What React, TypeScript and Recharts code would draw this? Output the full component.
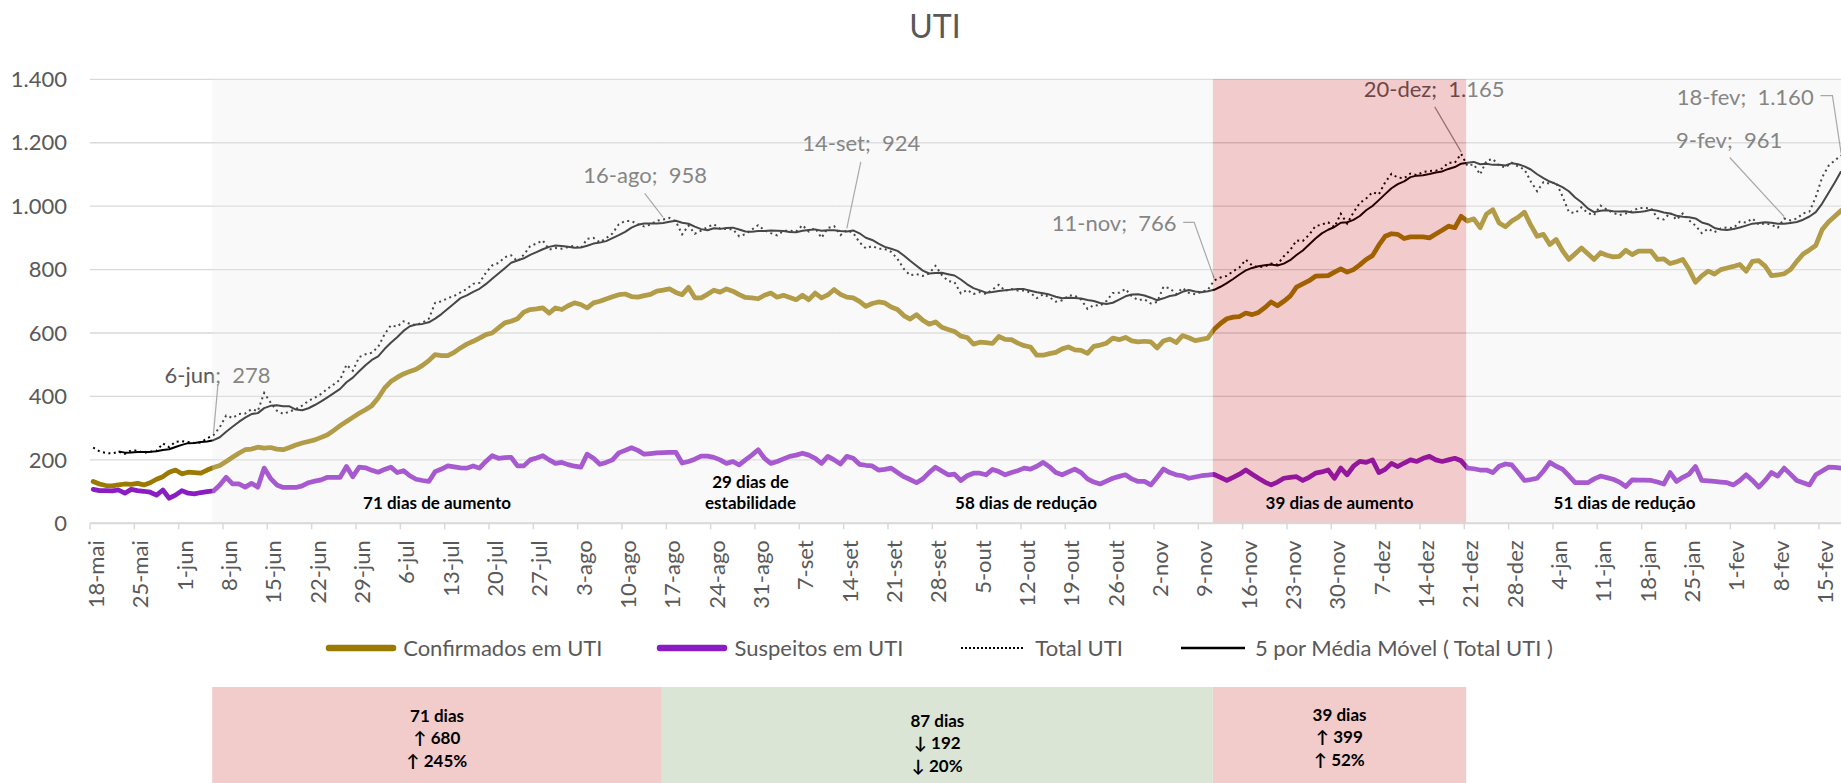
import React from 'react';
import {
  CartesianGrid,
  ComposedChart,
  Legend,
  Line,
  ReferenceArea,
  ReferenceDot,
  XAxis,
  YAxis,
} from 'recharts';

const FONT = 'Lato, "Liberation Sans", sans-serif';

// dias (índice a partir de 18-mai) que recebem rótulo no eixo x
const TICK_DAYS = [
  0, 7, 14, 21, 28, 35, 42, 49, 56, 63, 70, 77, 84, 91, 98, 105, 112, 119, 126, 133,
  140, 147, 154, 161, 168, 175, 182, 189, 196, 203, 210, 217, 224, 231, 238, 245, 252, 259, 266, 273,
];
const TICK_LABELS = [
  '18-mai', '25-mai', '1-jun', '8-jun', '15-jun', '22-jun', '29-jun', '6-jul', '13-jul', '20-jul',
  '27-jul', '3-ago', '10-ago', '17-ago', '24-ago', '31-ago', '7-set', '14-set', '21-set', '28-set',
  '5-out', '12-out', '19-out', '26-out', '2-nov', '9-nov', '16-nov', '23-nov', '30-nov', '7-dez',
  '14-dez', '21-dez', '28-dez', '4-jan', '11-jan', '18-jan', '25-jan', '1-fev', '8-fev', '15-fev',
];
const Y_TICKS = [0, 200, 400, 600, 800, 1000, 1200, 1400];

// 18-mai .. 18-fev, um valor por dia
const CONFIRMADOS = [
  132, 124, 119, 118, 121, 124, 123, 126, 121, 128,
  139, 147, 161, 168, 156, 161, 160, 158, 168, 176,
  182, 195, 208, 221, 232, 234, 240, 237, 239, 234,
  232, 239, 247, 253, 258, 263, 271, 279, 293, 308,
  321, 334, 347, 358, 371, 395, 426, 447, 460, 471,
  479, 486, 498, 513, 532, 529, 529, 539, 553, 565,
  574, 584, 595, 600, 616, 632, 637, 645, 666, 674,
  676, 679, 663, 679, 674, 686, 695, 690, 679, 695,
  700, 707, 714, 721, 723, 715, 713, 718, 722, 732,
  735, 739, 728, 721, 744, 711, 711, 722, 735, 729,
  739, 732, 721, 712, 711, 708, 719, 726, 713, 719,
  712, 705, 719, 705, 726, 711, 720, 737, 722, 713,
  711, 700, 684, 693, 698, 695, 682, 674, 655, 644,
  658, 640, 628, 635, 618, 611, 605, 590, 586, 565,
  571, 570, 567, 589, 580, 579, 568, 560, 556, 530,
  530, 535, 539, 550, 556, 547, 545, 536, 558, 562,
  568, 584, 579, 586, 575, 572, 574, 572, 553, 575,
  581, 570, 592, 585, 576, 580, 584, 612, 630, 645,
  650, 652, 663, 658, 665, 680, 698, 686, 700, 716,
  745, 755, 765, 779, 780, 781, 792, 802, 792, 800,
  815, 832, 844, 877, 905, 913, 911, 898, 903, 903,
  903, 900, 912, 924, 937, 932, 968, 953, 960, 932,
  975, 989, 947, 935, 953, 965, 981, 940, 905, 911,
  879, 895, 860, 832, 850, 868, 850, 832, 853, 845,
  840, 842, 861, 847, 858, 858, 858, 832, 834, 819,
  825, 832, 800, 760, 780, 795, 786, 800, 805, 810,
  816, 795, 826, 828, 811, 781, 783, 787, 800, 826,
  849, 862, 876, 926, 950, 968, 986,
];

const SUSPEITOS = [
  107, 103, 103, 102, 105, 95, 107, 103, 101, 98,
  89, 105, 79, 89, 103, 95, 93, 97, 100, 102,
  121, 145, 124, 124, 114, 126, 114, 174, 142, 121,
  113, 113, 113, 118, 128, 133, 137, 145, 145, 145,
  179, 147, 177, 175, 167, 161, 170, 177, 160, 166,
  150, 139, 135, 132, 163, 171, 181, 178, 175, 174,
  181, 174, 195, 213, 205, 207, 208, 181, 181, 200,
  206, 213, 200, 189, 192, 185, 180, 177, 218, 205,
  186, 192, 200, 222, 230, 238, 230, 218, 220, 222,
  223, 224, 224, 190, 195, 202, 212, 212, 208, 200,
  189, 195, 184, 200, 215, 232, 205, 189, 195, 203,
  211, 215, 221, 215, 205, 189, 211, 200, 187, 211,
  205, 186, 183, 181, 168, 170, 174, 160, 147, 138,
  128, 140, 160, 177, 165, 153, 155, 135, 150, 158,
  158, 153, 170, 163, 153, 160, 166, 174, 171, 180,
  192, 178, 160, 153, 162, 171, 160, 140, 130, 124,
  133, 142, 148, 153, 140, 132, 132, 121, 145, 171,
  160, 153, 150, 142, 146, 150, 152, 154, 145, 135,
  145, 155, 168, 155, 142, 130, 121, 130, 142, 145,
  147, 135, 145, 158, 162, 168, 142, 174, 153, 180,
  195, 192, 200, 160, 170, 189, 179, 190, 200, 195,
  205, 211, 200, 195, 200, 205, 197, 174, 172, 168,
  168, 160, 180, 187, 184, 160, 135, 138, 142, 165,
  192, 180, 171, 150, 128, 128, 128, 140, 149, 144,
  139, 130, 116, 137, 136, 136, 135, 130, 124, 160,
  132, 145, 155, 179, 135, 134, 132, 130, 128, 121,
  135, 153, 135, 114, 135, 160, 149, 174, 155, 135,
  128, 121, 153, 165, 177, 176, 174,
];

const TOTAL_UTI = [
  239, 227, 222, 220, 226, 219, 230, 229, 222, 226,
  228, 252, 240, 257, 259, 256, 253, 255, 268, 278,
  303, 340, 332, 345, 346, 360, 354, 411, 381, 355,
  345, 352, 360, 371, 386, 396, 408, 424, 438, 453,
  500, 481, 524, 533, 538, 556, 596, 624, 620, 637,
  629, 625, 633, 645, 695, 700, 710, 717, 728, 739,
  755, 758, 790, 813, 821, 839, 845, 826, 847, 874,
  882, 892, 863, 868, 866, 871, 875, 867, 897, 900,
  886, 899, 914, 943, 953, 953, 943, 936, 942, 954,
  958, 963, 952, 911, 939, 913, 923, 934, 943, 929,
  928, 927, 905, 912, 926, 940, 924, 915, 908, 922,
  923, 920, 940, 920, 931, 900, 931, 937, 909, 924,
  916, 886, 867, 874, 866, 865, 856, 834, 802, 782,
  786, 780, 788, 812, 783, 764, 760, 725, 736, 723,
  729, 723, 737, 752, 733, 739, 734, 734, 727, 710,
  722, 713, 699, 703, 718, 718, 705, 676, 688, 686,
  701, 726, 727, 739, 715, 704, 706, 693, 698, 746,
  741, 723, 742, 727, 722, 730, 736, 766, 775, 780,
  795, 807, 831, 813, 807, 810, 819, 816, 842, 861,
  892, 890, 910, 937, 942, 949, 934, 976, 945, 980,
  1010, 1024, 1044, 1037, 1075, 1102, 1090, 1088, 1103, 1098,
  1108, 1111, 1112, 1119, 1137, 1137, 1165, 1127, 1132, 1100,
  1143, 1149, 1127, 1122, 1137, 1125, 1116, 1078, 1047, 1076,
  1071, 1075, 1031, 982, 978, 996, 978, 972, 1002, 989,
  979, 972, 977, 984, 994, 994, 993, 962, 958, 979,
  957, 977, 955, 939, 915, 929, 918, 930, 933, 931,
  951, 948, 961, 942, 946, 941, 932, 961, 955, 961,
  977, 983, 1029, 1091, 1127, 1144, 1160,
];

// pontos anotados na série Total UTI
const NOTE_DAYS = [19, 90, 119, 177, 216, 267, 276];
const NOTE_DATES = ['6-jun', '16-ago', '14-set', '11-nov', '20-dez', '9-fev', '18-fev'];

// períodos destacados no gráfico
const PERIOD_FROM = [19, 90, 118, 177, 217, 267];
const PERIOD_TO = [90, 118, 177, 217, 267, 277];
const PERIOD_TEXT = [
  ['71 dias de aumento'],
  ['29 dias de', 'estabilidade'],
  ['58 dias de redução'],
  ['39 dias de aumento'],
  ['51 dias de redução'],
  [],
];
const PERIOD_UP = [false, false, false, true, false, false];

// quadros de resumo abaixo da legenda
const BOX_FROM = [19, 90, 177];
const BOX_TO = [90, 177, 217];
const BOX_TEXT = [
  ['71 dias', '↑ 680', '↑ 245%'],
  ['87 dias', '↓ 192', '↓ 20%'],
  ['39 dias', '↑ 399', '↑ 52%'],
];
const BOX_UP = [true, false, true];

const COLOR_CONF = '#9a7a00';
const COLOR_SUSP = '#8a1cc4';
const TEXT_GREY = '#595959';

// 5 por média móvel (linha de tendência do Excel sobre o Total UTI)
const MEDIA_MOVEL = TOTAL_UTI.map((_, i) =>
  i < 4 ? null : TOTAL_UTI.slice(i - 4, i + 1).reduce((s, v) => s + v, 0) / 5
);

const rows = TOTAL_UTI.map((total, i) => ({
  dia: i,
  conf: CONFIRMADOS[i],
  susp: SUSPEITOS[i],
  total,
  media: MEDIA_MOVEL[i],
}));

const CHART_W = 1860;
const PLOT_LEFT = 90;
const PLOT_W = 1754.3;
const SLOT = PLOT_W / 277;
const EDGE = -0.2; // as faixas começam um pouco antes do ponto do dia

const fmt = (n: number) => String(n).replace(/\B(?=(\d{3})+(?!\d))/g, '.');

// posição do rótulo e da linha de chamada, relativa ao ponto
const NOTE_STYLE = [
  { tx: 4, ty: -60, path: [[4.5, -51], [0, -2]] },
  { tx: -18, ty: -44.5, path: [[-18.5, -26], [0, -2]] },
  { tx: 14.5, ty: -87, path: [[14, -68.5], [0, -2]] },
  { tx: -100, ty: -57, path: [[-31, -58], [-20, -58], [0, -2]] },
  { tx: -27, ty: -64.5, path: [[-26.4, -47], [0, -2]] },
  { tx: -55, ty: -78.5, path: [[-54.4, -61], [0, -2]] },
  { tx: -96, ty: -58, path: [[-20.7, -59.7], [-8.7, -59.7], [0, -2]] },
];

function DateTick({ x, y, payload }: any) {
  const label = TICK_LABELS[TICK_DAYS.indexOf(payload.value)];
  const tx = x + 3;
  const ty = y + 17;
  return (
    <g>
      <line x1={x - SLOT / 2} x2={x - SLOT / 2} y1={y} y2={y + 6} stroke="#d9d9d9" strokeWidth={1.5} />
      <text
        x={tx}
        y={ty}
        dy="0.35em"
        textAnchor="end"
        transform={`rotate(-90, ${tx}, ${ty})`}
        fill={TEXT_GREY}
        fontSize={22}
      >
        {label}
      </text>
    </g>
  );
}

function ValueTick({ x, y, payload }: any) {
  return (
    <text x={x - 23} y={y} dy="0.35em" textAnchor="end" fill={TEXT_GREY} fontSize={22}>
      {fmt(payload.value)}
    </text>
  );
}

function NoteShape({ cx, cy, k }: any) {
  if (cx == null || cy == null) return null;
  const st = NOTE_STYLE[k];
  const d = st.path.map(([dx, dy], j) => `${j ? 'L' : 'M'}${cx + dx},${cy + dy}`).join(' ');
  return (
    <g>
      <path d={d} fill="none" stroke="#8c8c8c" strokeWidth={1.2} />
      <text
        x={cx + st.tx}
        y={cy + st.ty}
        dy="0.35em"
        textAnchor="middle"
        fill={TEXT_GREY}
        fontSize={22}
        style={{ whiteSpace: 'pre' }}
      >
        {`${NOTE_DATES[k]};  ${fmt(TOTAL_UTI[NOTE_DAYS[k]])}`}
      </text>
    </g>
  );
}

function PeriodLabel({ viewBox, lines }: any) {
  if (!viewBox || !lines.length) return null;
  const cx = viewBox.x + viewBox.width / 2;
  const bottom = viewBox.y + viewBox.height - 20;
  return (
    <g>
      {lines.map((t: string, j: number) => (
        <text
          key={t}
          x={cx}
          y={bottom - (lines.length - 1 - j) * 21.6}
          dy="0.35em"
          textAnchor="middle"
          fontWeight="bold"
          fontSize={17}
          fill="#000"
        >
          {t}
        </text>
      ))}
    </g>
  );
}

const BOX_TOP = [29, 34, 28];

function BoxLabel({ viewBox, k }: any) {
  if (!viewBox) return null;
  const cx = viewBox.x + viewBox.width / 2;
  return (
    <g>
      {BOX_TEXT[k].map((t, j) => (
        <text
          key={t}
          x={cx}
          y={viewBox.y + BOX_TOP[k] + j * 22.5}
          dy="0.35em"
          textAnchor="middle"
          fontWeight="bold"
          fontSize={17}
          fill="#000"
        >
          {t}
        </text>
      ))}
    </g>
  );
}

const LEGEND_ITEMS = [
  { name: 'Confirmados em UTI', color: COLOR_CONF, width: 6.5, dash: undefined, cap: 'round' },
  { name: 'Suspeitos em UTI', color: COLOR_SUSP, width: 6.5, dash: undefined, cap: 'round' },
  { name: 'Total UTI', color: '#000', width: 2, dash: '2 2', cap: 'butt' },
  { name: '5 por Média Móvel ( Total UTI )', color: '#000', width: 2.5, dash: undefined, cap: 'butt' },
];

function LegendContent() {
  return (
    <div
      style={{
        display: 'flex',
        justifyContent: 'center',
        alignItems: 'center',
        gap: 54,
        fontSize: 22,
        color: TEXT_GREY,
        fontFamily: FONT,
        height: 30,
      }}
    >
      {LEGEND_ITEMS.map((it) => (
        <div key={it.name} style={{ display: 'flex', alignItems: 'center', gap: 6 }}>
          <svg width={72} height={12}>
            <line
              x1={4}
              x2={68}
              y1={6}
              y2={6}
              stroke={it.color}
              strokeWidth={it.width}
              strokeDasharray={it.dash}
              strokeLinecap={it.cap as any}
            />
          </svg>
          <span style={{ whiteSpace: 'pre' }}>{it.name}</span>
        </div>
      ))}
    </div>
  );
}

export default function App() {
  return (
    <div
      style={{
        position: 'absolute',
        left: 0,
        top: 0,
        width: 1841,
        height: 783,
        overflow: 'hidden',
        background: '#fff',
        fontFamily: FONT,
      }}
    >
      <div
        style={{
          position: 'absolute',
          top: 6,
          left: 0,
          width: 1870,
          textAlign: 'center',
          fontSize: 32,
          lineHeight: '40px',
          color: TEXT_GREY,
        }}
      >
        UTI
      </div>

      <div style={{ position: 'absolute', left: 0, top: 0 }}>
        <ComposedChart
          width={CHART_W}
          height={783}
          data={rows}
          margin={{ top: 79.3, right: CHART_W - PLOT_LEFT - PLOT_W, left: 0, bottom: 0 }}
        >
          <CartesianGrid vertical={false} stroke="#d9d9d9" strokeWidth={1.3} />
          <XAxis
            type="number"
            dataKey="dia"
            domain={[-0.5, 276.5]}
            ticks={TICK_DAYS}
            interval={0}
            height={783 - 79.3 - 444}
            tickSize={0}
            tickMargin={0}
            tickLine={false}
            axisLine={{ stroke: '#d9d9d9', strokeWidth: 2 }}
            tick={<DateTick />}
          />
          <YAxis
            type="number"
            domain={[0, 1400]}
            ticks={Y_TICKS}
            width={PLOT_LEFT}
            tickSize={0}
            tickMargin={0}
            axisLine={false}
            tickLine={false}
            tick={<ValueTick />}
          />
          <Line
            dataKey="conf"
            name="Confirmados em UTI"
            stroke={COLOR_CONF}
            strokeWidth={4.75}
            strokeLinejoin="round"
            strokeLinecap="round"
            dot={false}
            activeDot={false}
            isAnimationActive={false}
          />
          <Line
            dataKey="susp"
            name="Suspeitos em UTI"
            stroke={COLOR_SUSP}
            strokeWidth={4.75}
            strokeLinejoin="round"
            strokeLinecap="round"
            dot={false}
            activeDot={false}
            isAnimationActive={false}
          />
          <Line
            dataKey="total"
            name="Total UTI"
            stroke="#000"
            strokeWidth={2}
            strokeDasharray="2 3.5"
            dot={false}
            activeDot={false}
            isAnimationActive={false}
          />
          <Line
            dataKey="media"
            name="5 por Média Móvel ( Total UTI )"
            stroke="#000"
            strokeWidth={2}
            strokeLinejoin="round"
            dot={false}
            activeDot={false}
            isAnimationActive={false}
          />
          {NOTE_DAYS.map((d, k) => (
            <ReferenceDot
              key={`note-${d}`}
              x={d}
              y={TOTAL_UTI[d]}
              r={0}
              zIndex={420}
              shape={(p: any) => <NoteShape cx={p.cx} cy={p.cy} k={k} />}
            />
          ))}
          {PERIOD_FROM.map((from, k) => (
            <ReferenceArea
              key={`period-${from}`}
              x1={from + EDGE}
              x2={Math.min(PERIOD_TO[k] + EDGE, 276.5)}
              y1={0}
              y2={1400}
              fill={PERIOD_UP[k] ? '#c00000' : '#ececec'}
              fillOpacity={PERIOD_UP[k] ? 0.2 : 0.3}
              stroke="none"
              zIndex={450}
              label={(p: any) => <PeriodLabel viewBox={p.viewBox || p} lines={PERIOD_TEXT[k]} />}
            />
          ))}
          <Legend
            layout="horizontal"
            verticalAlign="middle"
            align="center"
            wrapperStyle={{ top: 632.7, left: 0, width: 1878 }}
            content={() => <LegendContent />}
          />
        </ComposedChart>
      </div>

      <div style={{ position: 'absolute', left: 0, top: 687 }}>
        <ComposedChart
          width={CHART_W}
          height={100}
          data={rows}
          margin={{ top: 0, right: CHART_W - PLOT_LEFT - PLOT_W, left: PLOT_LEFT, bottom: 0 }}
        >
          <XAxis type="number" dataKey="dia" domain={[-0.5, 276.5]} allowDataOverflow hide />
          <YAxis type="number" domain={[0, 1]} allowDataOverflow hide />
          <Line
            dataKey="conf"
            stroke="none"
            dot={false}
            activeDot={false}
            legendType="none"
            isAnimationActive={false}
          />
          {BOX_FROM.map((from, k) => (
            <ReferenceArea
              key={`box-${from}`}
              x1={from + EDGE}
              x2={BOX_TO[k] + EDGE}
              y1={0}
              y2={1}
              ifOverflow="visible"
              fill={BOX_UP[k] ? '#f2cbcb' : '#dbe5d6'}
              fillOpacity={1}
              stroke="none"
              label={(p: any) => <BoxLabel viewBox={p.viewBox || p} k={k} />}
            />
          ))}
        </ComposedChart>
      </div>
    </div>
  );
}
